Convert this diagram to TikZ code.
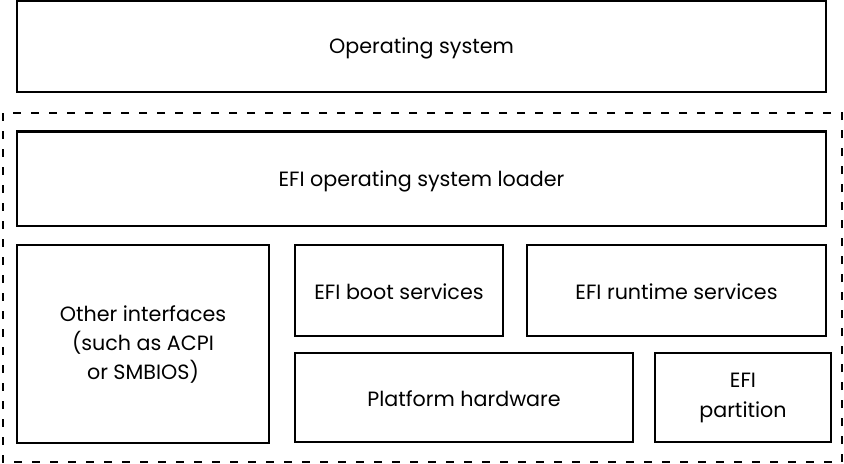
\documentclass[tikz,border=0pt]{standalone}
\usepackage{fontspec}
\setmainfont{Poppins}
\begin{document}
\begin{tikzpicture}[x=0.75pt,y=-0.75pt,
  box/.style={draw=black,line width=2.1pt},
  lbl/.style={font=\fontsize{15.5}{22}\selectfont,align=center,inner sep=0pt,text=black},
  group/.style={draw=black,line width=2.1pt,dash pattern=on 6pt off 7.5pt}]
\useasboundingbox (0,0) rectangle (844,464);
\draw[box] (17,1) rectangle (826,92);
\node[lbl] (os) at (421.5,48) {Operating system};
\draw[group] (3,113) rectangle (842,462);
\draw[box] (17,131.5) rectangle (826,226);
\node[lbl] (loader) at (421.5,181) {EFI operating system loader};
\draw[box] (17,245) rectangle (269,443);
\node[lbl] (other) at (143,344.5) {Other interfaces\\(such as ACPI\\or SMBIOS)};
\draw[box] (295,245) rectangle (503,336);
\node[lbl] (boot) at (399,291.5) {EFI boot services};
\draw[box] (527,245) rectangle (826,336);
\node[lbl] (runtime) at (676.5,291.5) {EFI runtime services};
\draw[box] (295,353) rectangle (633,442);
\node[lbl] (platform) at (464,398.5) {Platform hardware};
\draw[box] (655,353) rectangle (831,442);
\node[lbl] (partition) at (743,398) {EFI\\partition};
\end{tikzpicture}
\end{document}
